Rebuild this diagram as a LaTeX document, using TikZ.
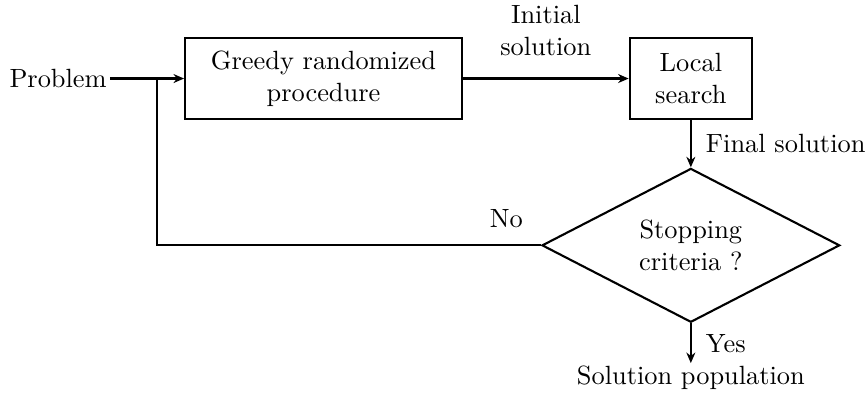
\documentclass[tikz,border=0pt]{standalone}
\usepackage{tikz}
\usetikzlibrary{positioning,shapes.geometric,arrows.meta}

\begin{document}
\begin{tikzpicture}[
    block/.style={draw, line width=0.8pt, align=center, minimum height=1.08cm},
    decision/.style={draw, diamond, line width=0.8pt, align=center, inner sep=0pt,
      minimum width=3.97cm, minimum height=2.04cm},
    flow/.style={line width=0.8pt, -{Stealth[length=4pt,width=3.4pt]}},
    node distance=1cm]
  \useasboundingbox (0,0) rectangle (11.56,-5.373);
  \node[block, minimum width=3.69cm] (greedy) at (4.313,-1.047) {Greedy randomized\\procedure};
  \node[block, minimum width=1.63cm, right=2.21cm of greedy] (local) {Local\\search};
  \node[decision, below=0.63cm of local] (stop) {Stopping\\criteria ?};
  \node[inner sep=1pt, left=0.99cm of greedy] (problem) {Problem};
  \node[inner sep=1pt, below=0.53cm of stop] (population) {Solution population};
  \coordinate[right=0.63cm of problem.east] (join);

  \draw[flow] (problem) -- (greedy);
  \draw[flow] (greedy) -- node[above=5pt, align=center] {Initial\\solution} (local);
  \draw[flow] (local) -- node[right=2pt] {Final solution} (stop);
  \draw[flow] (stop) -- node[right=2pt] {Yes} (population);
  \draw[line width=0.8pt] (stop.west) -| node[pos=0.045, above=3pt] {No} (join);
\end{tikzpicture}
\end{document}
